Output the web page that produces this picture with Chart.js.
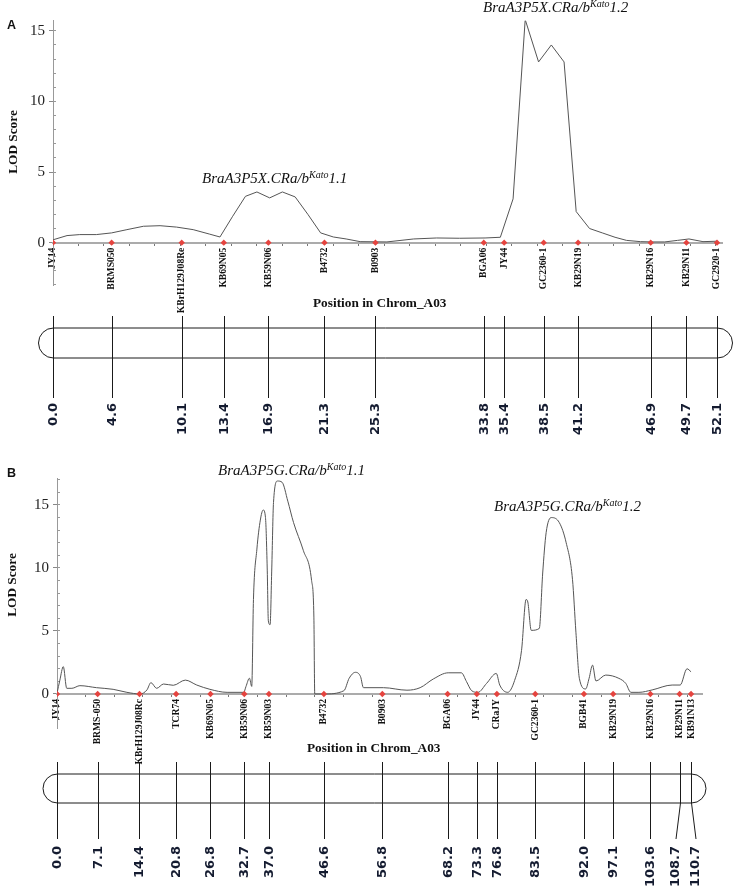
<!DOCTYPE html>
<html>
<head>
<meta charset="utf-8">
<script src="https://cdn.jsdelivr.net/npm/chart.js@4.4.1/dist/chart.umd.min.js"></script>
<style>
	body { margin: 0; background: #fff; }
	#fig { position: relative; width: 734px; height: 888px; overflow: hidden; }
	canvas { position: absolute; left: 0; }
	.t { position: absolute; white-space: nowrap; line-height: 1; color: #111; font-family: 'Liberation Serif', 'Times New Roman', serif; }
	.qtl { font-style: italic; font-size: 15px; }
	.qtl span { font-size: 10px; position: relative; top: -5px; }
	.lod { font-weight: bold; font-size: 13.3px; transform: translate(-50%, -50%) rotate(-90deg); }
	.pos { font-weight: bold; font-size: 13.3px; }
	.panel { font-family: 'Liberation Sans', Arial, sans-serif; font-weight: bold; font-size: 12.5px; }
</style>
</head>
<body>
<div id="fig">
	<canvas id="chartA" width="734" height="444" style="top:0"></canvas>
	<canvas id="chartB" width="734" height="444" style="top:444px"></canvas>

	<div class="t panel" style="left:7px;top:18.5px">A</div>
	<div class="t lod" style="left:12.7px;top:141.5px">LOD Score</div>
	<div class="t pos" style="left:313px;top:295.9px">Position in Chrom_A03</div>
	<div class="t qtl" style="left:202px;top:171.4px">BraA3P5X.CRa/b<span>Kato</span>1.1</div>
	<div class="t qtl" style="left:483px;top:0.2px">BraA3P5X.CRa/b<span>Kato</span>1.2</div>

	<div class="t panel" style="left:7px;top:467px">B</div>
	<div class="t lod" style="left:12.3px;top:585px">LOD Score</div>
	<div class="t pos" style="left:307px;top:740.6px">Position in Chrom_A03</div>
	<div class="t qtl" style="left:218px;top:463.4px">BraA3P5G.CRa/b<span>Kato</span>1.1</div>
	<div class="t qtl" style="left:494px;top:499px">BraA3P5G.CRa/b<span>Kato</span>1.2</div>
</div>

<script>
(() => {
	'use strict'

	// Panel A: markers, map positions (cM) and LOD profile
	const markersA = ['JY14', 'BRMS050', 'KBrH129J08Re', 'KB69N05', 'KB59N06', 'B4732', 'B0903', 'BGA06', 'JY44', 'GC2360-1', 'KB29N19', 'KB29N16', 'KB29N11', 'GC2920-1'];
	const positionsA = [0.0, 4.6, 10.1, 13.4, 16.9, 21.3, 25.3, 33.8, 35.4, 38.5, 41.2, 46.9, 49.7, 52.1];
	const lodPosA = [0, 1.1, 2.1, 3.4, 4.6, 5.8, 7.1, 8.4, 9.7, 11.0, 12.3, 13.1, 14.1, 15.1, 16.0, 17.0, 18.0, 19.0, 20.0, 21.0, 22.0, 23.0, 24.1, 26.2, 28.3, 30.1, 31.9, 33.9, 35.1, 36.1, 37.05, 38.1, 39.1, 40.1, 41.05, 42.1, 43.1, 44.1, 45.0, 46.1, 47.0, 48.0, 49.0, 49.9, 51.0, 52.1];
	const lodA = [0.2, 0.5, 0.57, 0.57, 0.69, 0.92, 1.16, 1.2, 1.1, 0.92, 0.6, 0.4, 1.87, 3.28, 3.59, 3.17, 3.59, 3.24, 2.0, 0.69, 0.4, 0.26, 0.07, 0.05, 0.26, 0.33, 0.31, 0.33, 0.38, 3.1, 15.8, 12.8, 14.0, 12.8, 2.2, 1.0, 0.69, 0.38, 0.16, 0.07, 0.05, 0.05, 0.16, 0.26, 0.07, 0.1];

	// Panel B
	const markersB = ['JY14', 'BRMS-050', 'KBrH129J08Rc', 'TCR74', 'KB69N05', 'KB59N06', 'KB59N03', 'B4732', 'B0903', 'BGA06', 'JY44', 'CRaJY', 'GC2360-1', 'BGB41', 'KB29N19', 'KB29N16', 'KB29N11', 'KB91N13'];
	const positionsB = [0.0, 7.1, 14.4, 20.8, 26.8, 32.7, 37.0, 46.6, 56.8, 68.2, 73.3, 76.8, 83.5, 92.0, 97.1, 103.6, 108.7, 110.7];
	const lodPosB = [0, 0.5, 1.1, 1.7, 2.6, 4.0, 6.9, 9.8, 12.2, 14.5, 15.7, 16.4, 17.4, 18.6, 20.3, 22.4, 24.4, 26.7, 29.7, 32.6, 33.0, 33.6, 34.0, 34.3, 34.9, 35.5, 36.0, 36.4, 36.7, 36.9, 37.2, 37.5, 37.8, 38.5, 39.3, 40.3, 41.3, 43.0, 44.45, 44.85, 45.0, 46.6, 50.1, 51.0, 52.1, 53.0, 53.5, 57.0, 61.1, 63.4, 65.7, 68.3, 70.6, 71.5, 72.4, 73.5, 75.0, 76.7, 77.3, 78.7, 79.9, 81.1, 81.9, 82.2, 82.8, 84.2, 84.8, 85.4, 86.3, 87.7, 88.9, 90.0, 90.6, 91.2, 92.3, 92.9, 93.5, 94.1, 95.8, 98.1, 99.3, 100.2, 101.6, 103.9, 107.4, 108.8, 110.0, 110.7];
	const lodB = [0.05, 1.1, 2.17, 0.45, 0.45, 0.66, 0.5, 0.37, 0.13, 0, 0.32, 0.9, 0.45, 0.79, 0.69, 1.1, 0.71, 0.37, 0.13, 0.13, 0.6, 1.25, 0.6, 7.5, 11.5, 13.8, 14.6, 14.0, 10, 5.8, 5.5, 10, 15.2, 16.9, 16.8, 15.3, 13.6, 11.4, 9.0, 6.1, 0, 0, 0.26, 1.24, 1.72, 1.37, 0.5, 0.5, 0.3, 0.5, 1.19, 1.68, 1.68, 0.98, 0.26, 0.13, 0.84, 1.63, 0.71, 0.13, 1.08, 3.44, 7.5, 7.3, 5.05, 5.2, 9.6, 12.8, 14.0, 13.6, 12.0, 9.1, 4.9, 1.24, 0.4, 1.24, 2.29, 1.03, 1.5, 1.24, 0.84, 0.13, 0.13, 0.32, 0.71, 0.71, 2.0, 1.76];

	// Tick values
	const yTickValues = [0, 5, 10, 15];

	const serif = "'Liberation Serif', 'Times New Roman', serif";

	function range(from, to, step) {
		const out = [];
		for (let v = from; v <= to + 1e-9; v += step) out.push(v);
		return out;
	}

	// Draws the chromosome bar below the LOD plot, using the chart's x scale
	function chromosomePlugin(positions, geo) {
		return {
			id: 'chromosome',
			afterDraw(chart) {
				const ctx = chart.ctx;
				const xs = chart.scales.x;
				const px = positions.map(p => Math.round(xs.getPixelForValue(p)) + 0.5);

				// spread labels that would collide
				const lx = px.slice();
				for (let i = 0; i < lx.length - 1; i++) {
					if (lx[i + 1] - lx[i] < 19) {
						const m = (lx[i] + lx[i + 1]) / 2;
						lx[i] = m - 10;
						lx[i + 1] = m + 10;
					}
				}

				const left = px[0];
				const right = px[px.length - 1];
				const r = (geo.barBottom - geo.barTop) / 2;
				const mid = geo.barTop + r;

				ctx.save();
				ctx.strokeStyle = '#1a1a1a';
				ctx.lineWidth = 1;

				ctx.beginPath();
				ctx.moveTo(left, geo.barTop);
				ctx.lineTo(right, geo.barTop);
				ctx.arc(right, mid, r, -Math.PI / 2, Math.PI / 2);
				ctx.lineTo(left, geo.barBottom);
				ctx.arc(left, mid, r, Math.PI / 2, Math.PI * 1.5);
				ctx.closePath();
				ctx.stroke();

				ctx.beginPath();
				px.forEach((p, i) => {
					ctx.moveTo(p, geo.lineTop);
					ctx.lineTo(p, geo.barBottom);
					ctx.lineTo(lx[i], geo.lineBottom);
				});
				ctx.stroke();

				ctx.fillStyle = '#141b30';
				ctx.font = "bold 13px 'DejaVu Sans', Verdana, sans-serif";
				ctx.textAlign = 'right';
				ctx.textBaseline = 'middle';
				positions.forEach((p, i) => {
					ctx.save();
					ctx.translate(lx[i], geo.labelTop);
					ctx.rotate(-Math.PI / 2);
					ctx.fillText(p.toFixed(1), 0, 0);
					ctx.restore();
				});
				ctx.restore();
			}
		};
	}

	function makeChart(id, c) {
		const profile = c.lodPos.map((x, i) => ({ x: x, y: c.lod[i] }));
		const markerPoints = c.positions.map(p => ({ x: p, y: 0 }));

		return new Chart(document.getElementById(id), {
			type: 'line',
			data: {
				datasets: [{
					data: profile,
					borderColor: '#555555',
					borderWidth: 1,
					pointRadius: 0,
					tension: c.smooth ? 0.4 : 0,
					cubicInterpolationMode: c.smooth ? 'monotone' : 'default',
					order: 2
				}, {
					data: markerPoints,
					showLine: false,
					pointStyle: 'rectRot',
					pointRadius: 3.2,
					pointBackgroundColor: '#e5443f',
					pointBorderWidth: 0,
					order: 1
				}]
			},
			options: {
				responsive: false,
				animation: false,
				events: [],
				layout: { padding: c.padding },
				plugins: {
					legend: { display: false },
					tooltip: { enabled: false }
				},
				scales: {
					x: {
						type: 'linear',
						position: { y: 0 },
						min: 0,
						max: c.xMax,
						afterBuildTicks: s => { s.ticks = c.positions.map(v => ({ value: v })); },
						ticks: {
							autoSkip: false,
							minRotation: 90,
							maxRotation: 90,
							padding: 5,
							color: '#111',
							font: { family: serif, size: 9.6, weight: 'bold' },
							callback: (v, i) => c.markers[i]
						},
						grid: { drawOnChartArea: false, drawTicks: false },
						border: { display: true, color: '#ababab', width: 2 }
					},
					x2: {
						type: 'linear',
						axis: 'x',
						position: { y: 0 },
						min: 0,
						max: c.xMax,
						afterBuildTicks: s => { s.ticks = c.xMinor.map(v => ({ value: v })); },
						ticks: { display: false },
						grid: { drawOnChartArea: false, drawTicks: true, tickLength: 3, tickColor: '#777' },
						border: { display: false }
					},
					y: {
						type: 'linear',
						position: 'left',
						min: c.yMin,
						max: c.yMax,
						afterBuildTicks: s => { s.ticks = yTickValues.map(v => ({ value: v })); },
						afterFit: s => { s.width = c.yWidth; },
						ticks: { padding: 4, color: '#222', font: { family: serif, size: 15 } },
						grid: { drawOnChartArea: false, tickLength: 4, tickColor: '#888' },
						border: { color: '#999', width: 1 }
					},
					y2: {
						type: 'linear',
						axis: 'y',
						position: { x: 0 },
						min: c.yMin,
						max: c.yMax,
						afterBuildTicks: s => { s.ticks = c.yMinor.map(v => ({ value: v })); },
						ticks: { display: false },
						grid: { drawOnChartArea: false, drawTicks: true, tickLength: -3, tickColor: '#999' },
						border: { display: false }
					}
				}
			},
			plugins: [chromosomePlugin(c.positions, c.chromo)]
		});
	}

	/******************** Panel A ********************/
	makeChart('chartA', {
		markers: markersA,
		positions: positionsA,
		lodPos: lodPosA,
		lod: lodA,
		smooth: false,
		xMax: 52.5,
		xMinor: range(0, 52, 2),
		yMin: -3.05,
		yMax: 15.72,
		yMinor: range(-3, 15, 1),
		yWidth: 53,
		padding: { top: 20.7, bottom: 158.3, left: 0, right: 11.9 },
		chromo: { lineTop: 316, barTop: 328, barBottom: 358, lineBottom: 398, labelTop: 403 }
	});

	/******************** Panel B ********************/
	makeChart('chartB', {
		markers: markersB,
		positions: positionsB,
		lodPos: lodPosB,
		lod: lodB,
		smooth: true,
		xMax: 112.7,
		xMinor: range(0, 110, 5),
		yMin: -2.7,
		yMax: 17.14,
		yMinor: range(-2, 17, 1),
		yWidth: 57,
		padding: { top: 34, bottom: 160, left: 0, right: 31.5 },
		chromo: { lineTop: 318, barTop: 330, barBottom: 359, lineBottom: 395, labelTop: 402 }
	});
})()
</script>
</body>
</html>
